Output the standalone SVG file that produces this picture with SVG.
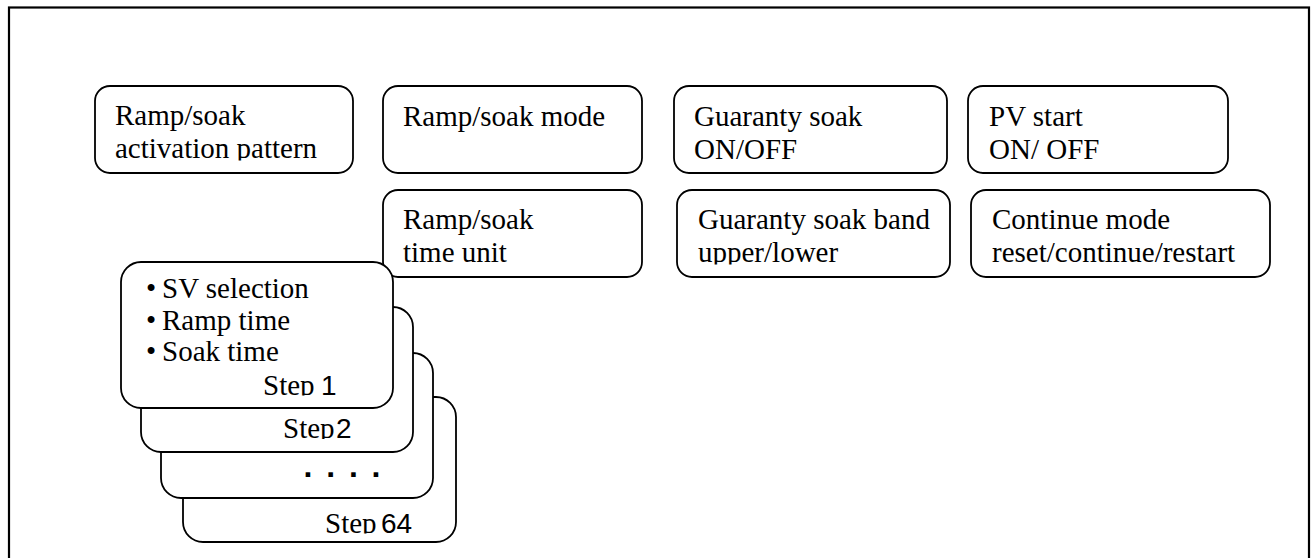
<svg xmlns="http://www.w3.org/2000/svg" width="1313" height="558" viewBox="0 0 1313 558">
<style>
.frame{fill:none;stroke:#000;stroke-width:2.2}
.box{fill:#fff;stroke:#000;stroke-width:1.8}
.t{font-family:"Liberation Serif","Times New Roman","DejaVu Serif",serif;font-size:29px;fill:#000}
.n{font-family:"Liberation Sans",Arial,sans-serif;font-size:28px;fill:#000}
</style>
<defs>
<clipPath id="c1"><rect x="100" y="80" width="260" height="80.5"/></clipPath>
<clipPath id="c6"><rect x="680" y="185" width="270" height="79.5"/></clipPath>
<clipPath id="s1"><rect x="120" y="260" width="280" height="135.5"/></clipPath>
<clipPath id="s2"><rect x="140" y="300" width="280" height="139"/></clipPath>
<clipPath id="s64"><rect x="180" y="390" width="280" height="143.5"/></clipPath>
</defs>
<rect class="frame" x="9" y="7.5" width="1300" height="560"/>
<g id="connectors"/>
<g id="node-activation-pattern">
<rect class="box" x="95" y="86" width="258" height="87" rx="15"/>
<g clip-path="url(#c1)">
<text class="t" x="115" y="125">Ramp/soak</text>
<text class="t" x="115" y="158">activation pattern</text>
</g>
</g>
<g id="node-mode">
<rect class="box" x="383" y="86" width="259" height="87" rx="15"/>
<text class="t" x="403" y="126">Ramp/soak mode</text>
</g>
<g id="node-guaranty-soak">
<rect class="box" x="674" y="86" width="273" height="87" rx="15"/>
<text class="t" x="694" y="126">Guaranty soak</text>
<text class="t" x="694" y="159">ON/OFF</text>
</g>
<g id="node-pv-start">
<rect class="box" x="968" y="86" width="260" height="87" rx="15"/>
<text class="t" x="989" y="126">PV start</text>
<text class="t" x="989" y="159">ON/ OFF</text>
</g>
<g id="node-time-unit">
<rect class="box" x="383" y="190" width="259" height="87" rx="15"/>
<text class="t" x="403" y="229">Ramp/soak</text>
<text class="t" x="403" y="262">time unit</text>
</g>
<g id="node-soak-band">
<rect class="box" x="677" y="190" width="273" height="87" rx="15"/>
<g clip-path="url(#c6)">
<text class="t" x="698" y="229">Guaranty soak band</text>
<text class="t" x="698" y="262">upper/lower</text>
</g>
</g>
<g id="node-continue-mode">
<rect class="box" x="971" y="190" width="299" height="87" rx="15"/>
<text class="t" x="992" y="229">Continue mode</text>
<text class="t" x="992" y="262">reset/continue/restart</text>
</g>
<g id="node-step64">
<rect class="box" x="183" y="397" width="273" height="145" rx="20"/>
<g clip-path="url(#s64)">
<text class="t" x="325" y="533">Step</text>
<text class="n" x="381" y="533">64</text>
</g>
</g>
<g id="node-step-dots">
<rect class="box" x="161" y="353" width="272" height="145" rx="20"/>
<text class="n" x="303.5" y="477" style="font-size:32px;font-weight:bold;letter-spacing:13.8px">....</text>
</g>
<g id="node-step2">
<rect class="box" x="141" y="307" width="272" height="145" rx="20"/>
<g clip-path="url(#s2)">
<text class="t" x="283" y="438">Step</text>
<text class="n" x="336" y="438">2</text>
</g>
</g>
<g id="node-step1">
<rect class="box" x="121" y="262" width="272" height="146" rx="20"/>
<text class="t" x="146" y="298">•</text>
<text class="t" x="162" y="298">SV selection</text>
<text class="t" x="146" y="330">•</text>
<text class="t" x="162" y="330">Ramp time</text>
<text class="t" x="146" y="361">•</text>
<text class="t" x="162" y="361">Soak time</text>
<g clip-path="url(#s1)">
<text class="t" x="263" y="395">Step</text>
<text class="n" x="321" y="395">1</text>
</g>
</g>
</svg>
